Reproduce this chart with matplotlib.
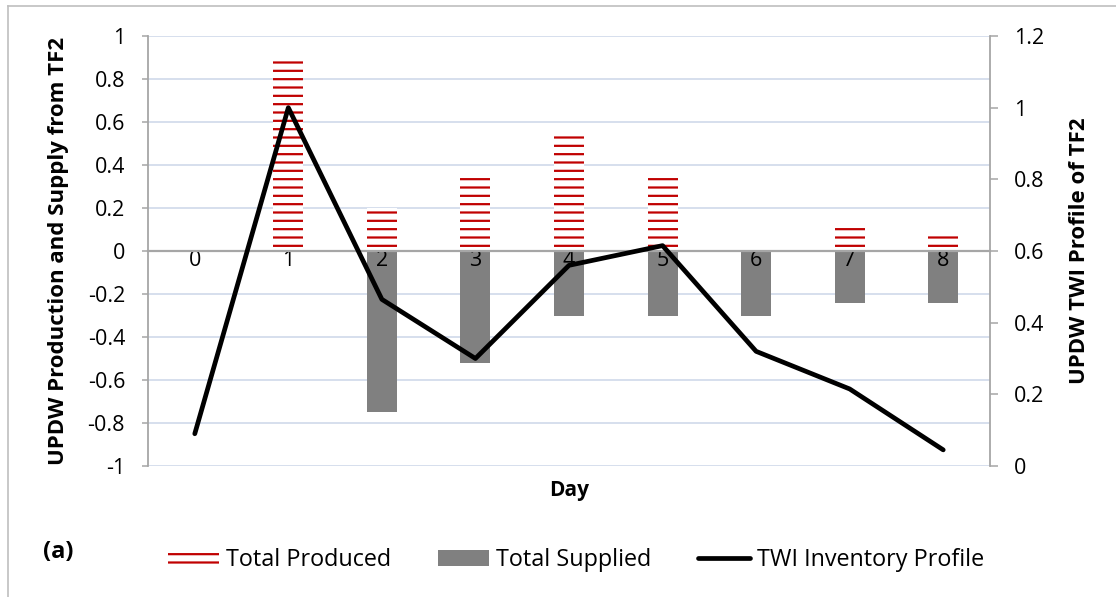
import matplotlib.pyplot as plt
from matplotlib.lines import Line2D
from matplotlib.patches import Patch

plt.rcParams['font.family'] = ['Open Sans', 'DejaVu Sans']
plt.rcParams['hatch.linewidth'] = 1.6

days = [0, 1, 2, 3, 4, 5, 6, 7, 8]
produced = [0, 0.9, 0.2, 0.35, 0.55, 0.35, 0, 0.12, 0.07]
supplied = [0, 0, -0.75, -0.52, -0.3, -0.3, -0.3, -0.24, -0.24]
twi = [0.09, 1.0, 0.465, 0.30, 0.56, 0.615, 0.32, 0.215, 0.045]

red = '#C00000'
gray = '#808080'
axis_gray = '#A6A6A6'

fig = plt.figure(figsize=(11.16, 5.97), dpi=100)
ax = fig.add_axes([148/1116, 1-466/597, 842/1116, 430/597])
ax2 = ax.twinx()

# bars on the left axis
ax.bar(days, produced, width=0.32, facecolor='white', edgecolor=red,
       linewidth=0, hatch='--', zorder=1)
ax.bar(days, supplied, width=0.32, color=gray, linewidth=0, zorder=1)

# TWI line on the right axis
ax2.plot(days, twi, color='black', lw=3.4, solid_capstyle='round', zorder=3)

ax.set_xlim(-0.5, 8.5)
ax.set_ylim(-1, 1)
ax.set_yticks([-1, -0.8, -0.6, -0.4, -0.2, 0, 0.2, 0.4, 0.6, 0.8, 1])
ax.set_yticklabels(['-1', '-0.8', '-0.6', '-0.4', '-0.2', '0', '0.2', '0.4', '0.6', '0.8', '1'])
ax2.set_ylim(0, 1.2)
ax2.set_yticks([0, 0.2, 0.4, 0.6, 0.8, 1, 1.2])
ax2.set_yticklabels(['0', '0.2', '0.4', '0.6', '0.8', '1', '1.2'])

ax.set_xticks(days)
ax.set_xticklabels([str(d) for d in days])

# gridlines behind bars, category labels on top
ax.yaxis.grid(True, color='#D0D9EA', lw=1.2)
ax.yaxis.set_zorder(0.5)

for a in (ax, ax2):
    a.spines['top'].set_visible(False)
ax.spines['bottom'].set_position(('data', 0))
ax.spines['bottom'].set_color(axis_gray)
ax.spines['bottom'].set_linewidth(1.6)
ax.spines['left'].set_color(axis_gray)
ax.spines['left'].set_linewidth(1.3)
ax.spines['right'].set_visible(False)
ax2.spines['left'].set_visible(False)
ax2.spines['bottom'].set_visible(False)
ax2.spines['right'].set_color(axis_gray)
ax2.spines['right'].set_linewidth(1.3)

ax.tick_params(axis='x', length=0, pad=-1, labelsize=15.5)
ax.tick_params(axis='y', length=4.5, width=1.1, color=axis_gray, pad=12, labelsize=15.5)
ax2.tick_params(axis='y', length=6, width=1.1, color=axis_gray, pad=11, labelsize=15.5)

ax.set_ylabel('UPDW Production and Supply from TF2', fontsize=16, fontweight='bold')
ax.yaxis.set_label_coords(-0.094, 0.5)
ax2.set_ylabel('UPDW TWI Profile of TF2', fontsize=16, fontweight='bold')
ax2.yaxis.set_label_coords(1.094, 0.5)
ax.set_xlabel('Day', fontsize=15, fontweight='bold')
ax.xaxis.set_label_coords(0.5, -0.056)
ax.xaxis.label.set_va('center')

handles = [Patch(facecolor='white', edgecolor=red, hatch='--', linewidth=0),
           Patch(facecolor=gray),
           Line2D([0], [0], color='black', lw=3.4, solid_capstyle='round')]
fig.legend(handles, ['Total Produced', 'Total Supplied', 'TWI Inventory Profile'],
           loc='center', bbox_to_anchor=(0.516, 0.062), ncol=3, frameon=False,
           fontsize=16.8, handlelength=2.2, handletextpad=0.3, columnspacing=2.0)

fig.text(43/1116, 1-552/597, '(a)', fontsize=17, fontweight='bold', va='center')

# chart border (only left and top edges visible)
fig.add_artist(Line2D([8/1116, 8/1116], [0, 1-6/597], color='#BFBFBF', lw=1.2))
fig.add_artist(Line2D([8/1116, 1], [1-6/597, 1-6/597], color='#BFBFBF', lw=1.2))

fig.savefig('out.png', dpi=100)
